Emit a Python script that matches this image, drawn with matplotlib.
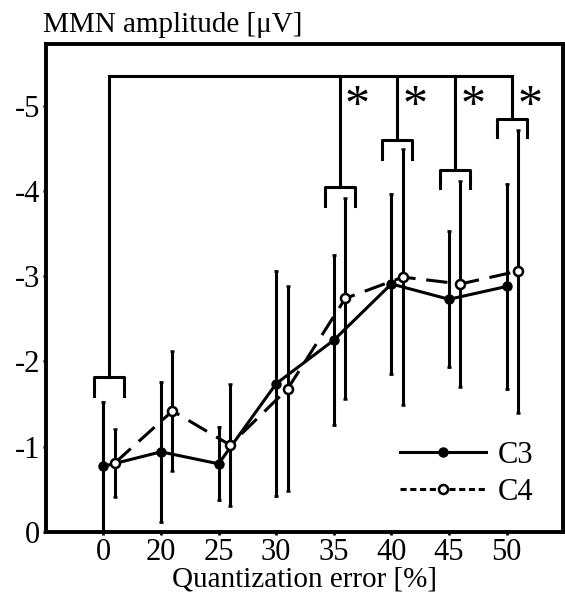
import numpy as np
import matplotlib.pyplot as plt
from matplotlib.lines import Line2D

plt.rcParams['font.family'] = ['Liberation Serif', 'DejaVu Serif']
plt.rcParams['axes.unicode_minus'] = False

# quantization error conditions (equally spaced categories)
conditions = ['0', '20', '25', '30', '35', '40', '45', '50']

# MMN amplitude (uV) and error bars
c3_mean = [-0.77, -0.94, -0.80, -1.74, -2.25, -2.91, -2.73, -2.88]
c3_err = [0.76, 0.82, 0.43, 1.32, 1.00, 1.06, 0.80, 1.20]
c4_mean = [-0.81, -1.42, -1.02, -1.68, -2.74, -2.99, -2.91, -3.06]
c4_err = [0.40, 0.70, 0.72, 1.20, 1.18, 1.50, 1.21, 1.66]

# significance brackets: condition index, bracket level, star or not
sig_idx = [0, 4, 5, 6, 7]
sig_level = [-1.82, -4.05, -4.60, -4.25, -4.85]
sig_star = [False, True, True, True, True]
sig_top = -5.35

x = np.arange(len(conditions))
off = 0.2

fig = plt.figure(figsize=(5.65, 6.05), dpi=100)
ax = fig.add_axes([0.081, 0.1207, 0.9155, 0.8073])

lw = 2.2
ax.errorbar(x, c3_mean, yerr=c3_err, color='black', lw=lw, elinewidth=lw,
            capsize=1.5, capthick=2, marker='o', ms=6.5, mfc='black', mec='black',
            label='C3', zorder=3)
ax.errorbar(x + off, c4_mean, yerr=c4_err, color='black', lw=lw, elinewidth=lw,
            capsize=1.5, capthick=2, marker='o', ms=6.5, mfc='white', mec='black',
            mew=1.8, ls=(0, (7, 3.5)), label='C4', zorder=3)

# brackets
for i, lev, star in zip(sig_idx, sig_level, sig_star):
    c = i + off / 2
    ax.plot([c, c], [sig_top, lev], color='black', lw=lw)
    ax.plot([c - 0.26, c - 0.26, c + 0.26, c + 0.26],
            [lev + 0.22, lev, lev, lev + 0.22], color='black', lw=lw)
    if star:
        ax.text(c + 0.31, -5.05, '*', fontsize=36, ha='center', va='center_baseline')
ax.plot([sig_idx[0] + off / 2, sig_idx[-1] + off / 2], [sig_top, sig_top],
        color='black', lw=lw)

ax.set_xlim(-1.0, 7.98)
ax.set_ylim(0, -5.73)
ax.set_xticks(x)
ax.set_xticklabels(conditions)
ax.set_yticks([0, -1, -2, -3, -4, -5])
ax.tick_params(labelsize=22, length=2, width=2, pad=2)
for s in ax.spines.values():
    s.set_linewidth(2.8)

ax.set_xlabel('Quantization error [%]', fontsize=21, labelpad=0)
ax.text(-0.005, 1.012, 'MMN amplitude [\u03bcV]', transform=ax.transAxes,
        fontsize=21, ha='left', va='bottom')

handles = [Line2D([], [], color='black', lw=lw, marker='o', ms=6.5, mfc='black'),
           Line2D([], [], color='black', lw=lw, ls=(0, (2, 1.2)), marker='o', ms=6.5,
                  mfc='white', mew=1.8)]
ax.legend(handles, ['C3', 'C4'], loc='lower right', frameon=False, fontsize=22,
          handlelength=2.8, handletextpad=0.4, labelspacing=0.25,
          borderaxespad=0.3, bbox_to_anchor=(0.985, 0.008))

fig.savefig('out.png', dpi=100)
